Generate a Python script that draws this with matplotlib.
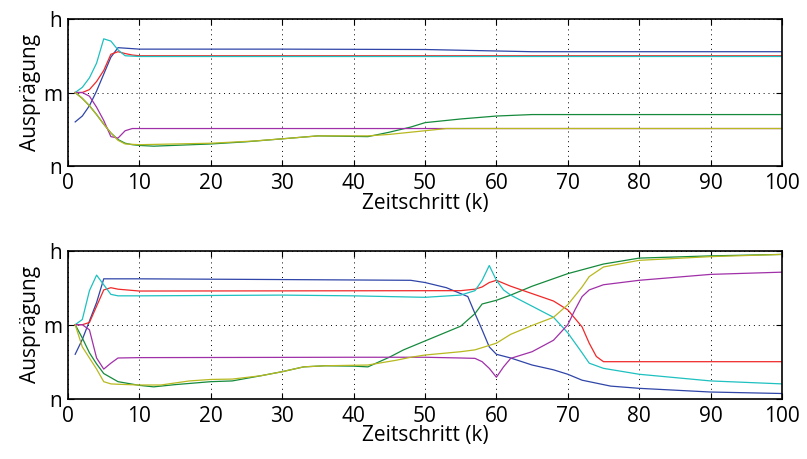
import matplotlib.pyplot as plt

# --- oberes Diagramm ---
k_blau1 = [1, 2, 3, 4, 5, 6, 7, 10, 30, 50, 60, 65, 70, 100]
y_blau1 = [0.60, 0.68, 0.82, 1.02, 1.25, 1.48, 1.61, 1.59, 1.59, 1.585, 1.565, 1.555, 1.555, 1.555]
k_rot1 = [1, 2, 3, 4, 5, 6, 7, 8, 9, 10, 100]
y_rot1 = [1.0, 1.0, 1.04, 1.15, 1.30, 1.52, 1.555, 1.53, 1.51, 1.50, 1.50]
k_cyan1 = [1, 2, 3, 4, 5, 6, 7, 8, 10, 100]
y_cyan1 = [1.0, 1.07, 1.2, 1.4, 1.73, 1.70, 1.58, 1.50, 1.49, 1.49]
k_mag1 = [1, 2, 3, 4, 5, 6, 7, 8, 9, 100]
y_mag1 = [1.0, 1.0, 0.95, 0.80, 0.62, 0.40, 0.38, 0.48, 0.51, 0.51]
k_gruen1 = [1, 2, 3, 4, 5, 6, 7, 8, 9, 10, 12, 20, 25, 30, 35, 42, 45, 48, 50, 55, 60, 65, 100]
y_gruen1 = [1.0, 0.92, 0.82, 0.70, 0.57, 0.45, 0.36, 0.31, 0.29, 0.28, 0.27, 0.30, 0.33, 0.37, 0.41, 0.40, 0.46, 0.53, 0.59, 0.64, 0.68, 0.70, 0.70]
k_gelb1 = [1, 2, 3, 4, 5, 6, 7, 8, 10, 20, 26, 30, 35, 42, 45, 47, 50, 53, 100]
y_gelb1 = [1.0, 0.92, 0.82, 0.70, 0.57, 0.45, 0.35, 0.30, 0.29, 0.31, 0.34, 0.37, 0.41, 0.41, 0.43, 0.45, 0.48, 0.51, 0.51]

# --- unteres Diagramm ---
k_blau2 = [1, 2, 3, 4, 5, 10, 30, 48, 50, 53, 56, 57, 58, 59, 60, 62, 65, 68, 70, 72, 74, 76, 80, 90, 100]
y_blau2 = [0.60, 0.80, 1.05, 1.30, 1.62, 1.62, 1.61, 1.60, 1.57, 1.50, 1.38, 1.15, 0.93, 0.70, 0.60, 0.55, 0.455, 0.39, 0.33, 0.25, 0.21, 0.17, 0.14, 0.09, 0.07]
k_rot2 = [1, 2, 3, 4, 5, 6, 7, 10, 55, 57, 58, 59, 60, 62, 65, 68, 70, 72, 73, 74, 75, 100]
y_rot2 = [1.0, 1.0, 1.03, 1.25, 1.47, 1.50, 1.48, 1.455, 1.46, 1.48, 1.51, 1.57, 1.60, 1.52, 1.42, 1.32, 1.20, 0.97, 0.75, 0.57, 0.50, 0.50]
k_cyan2 = [1, 2, 3, 4, 5, 6, 7, 10, 30, 40, 50, 55, 57, 58, 59, 60, 61, 62, 65, 68, 70, 72, 73, 75, 80, 90, 100]
y_cyan2 = [1.0, 1.07, 1.46, 1.67, 1.54, 1.41, 1.39, 1.39, 1.40, 1.39, 1.37, 1.40, 1.46, 1.60, 1.80, 1.60, 1.47, 1.40, 1.25, 1.10, 0.89, 0.62, 0.48, 0.41, 0.33, 0.24, 0.20]
k_mag2 = [1, 2, 3, 4, 5, 6, 7, 10, 40, 50, 55, 57, 58, 59, 60, 61, 62, 65, 68, 70, 71, 72, 73, 75, 80, 90, 100]
y_mag2 = [1.0, 1.0, 0.93, 0.55, 0.40, 0.48, 0.55, 0.555, 0.56, 0.56, 0.55, 0.545, 0.50, 0.41, 0.29, 0.43, 0.545, 0.635, 0.79, 1.00, 1.20, 1.38, 1.47, 1.54, 1.60, 1.68, 1.71]
k_gruen2 = [1, 2, 3, 4, 5, 7, 10, 12, 15, 20, 23, 27, 30, 33, 36, 40, 42, 45, 47, 50, 55, 57, 58, 60, 62, 65, 70, 75, 80, 90, 100]
y_gruen2 = [1.0, 0.82, 0.62, 0.47, 0.34, 0.23, 0.18, 0.16, 0.19, 0.23, 0.24, 0.31, 0.365, 0.43, 0.445, 0.44, 0.43, 0.56, 0.66, 0.78, 0.98, 1.15, 1.28, 1.33, 1.40, 1.52, 1.69, 1.82, 1.90, 1.93, 1.95]
k_gelb2 = [1, 2, 3, 4, 5, 6, 7, 10, 13, 17, 20, 23, 27, 30, 33, 36, 42, 46, 48, 50, 55, 57, 60, 62, 65, 68, 70, 72, 73, 75, 80, 90, 100]
y_gelb2 = [1.0, 0.70, 0.55, 0.40, 0.23, 0.20, 0.195, 0.185, 0.185, 0.24, 0.26, 0.265, 0.31, 0.365, 0.43, 0.445, 0.455, 0.52, 0.56, 0.59, 0.635, 0.66, 0.75, 0.87, 0.99, 1.10, 1.27, 1.51, 1.65, 1.78, 1.87, 1.92, 1.95]

farben = ['#2f45a8', '#158a3c', '#f02828', '#1ec0c0', '#a030a8', '#b8b820']
ytick_labels = ['n', 'm', 'h']

plt.rcParams['font.family'] = ['Open Sans', 'DejaVu Sans']

fig = plt.figure(figsize=(8.07, 4.59), dpi=100)
ax1 = fig.add_axes([0.0843, 0.6383, 0.8847, 0.3203])
ax2 = fig.add_axes([0.0843, 0.1314, 0.8847, 0.3224])

oben = [(k_blau1, y_blau1), (k_gruen1, y_gruen1), (k_rot1, y_rot1),
        (k_cyan1, y_cyan1), (k_mag1, y_mag1), (k_gelb1, y_gelb1)]
unten = [(k_blau2, y_blau2), (k_gruen2, y_gruen2), (k_rot2, y_rot2),
         (k_cyan2, y_cyan2), (k_mag2, y_mag2), (k_gelb2, y_gelb2)]

for ax, daten in [(ax1, oben), (ax2, unten)]:
    for (k, y), c in zip(daten, farben):
        ax.plot(k, y, color=c, linewidth=0.9)
    ax.set_xlim(0, 100)
    ax.set_ylim(0, 2)
    ax.set_xticks(range(0, 101, 10))
    ax.set_yticks([0, 1, 2])
    ax.set_yticklabels(ytick_labels)
    ax.grid(True, linestyle=(0, (1, 4)), color='black', linewidth=0.7)
    ax.tick_params(direction='in', length=4, labelsize=15, top=True, right=True)
    ax.tick_params(axis='x', pad=5)
    ax.tick_params(axis='y', pad=4)
    ax.set_xlabel('Zeitschritt (k)', fontsize=15, labelpad=-1)
    ax.set_ylabel('Ausprägung', fontsize=15, labelpad=2)
    for s in ax.spines.values():
        s.set_linewidth(1.2)

fig.savefig('out.png', dpi=100)
